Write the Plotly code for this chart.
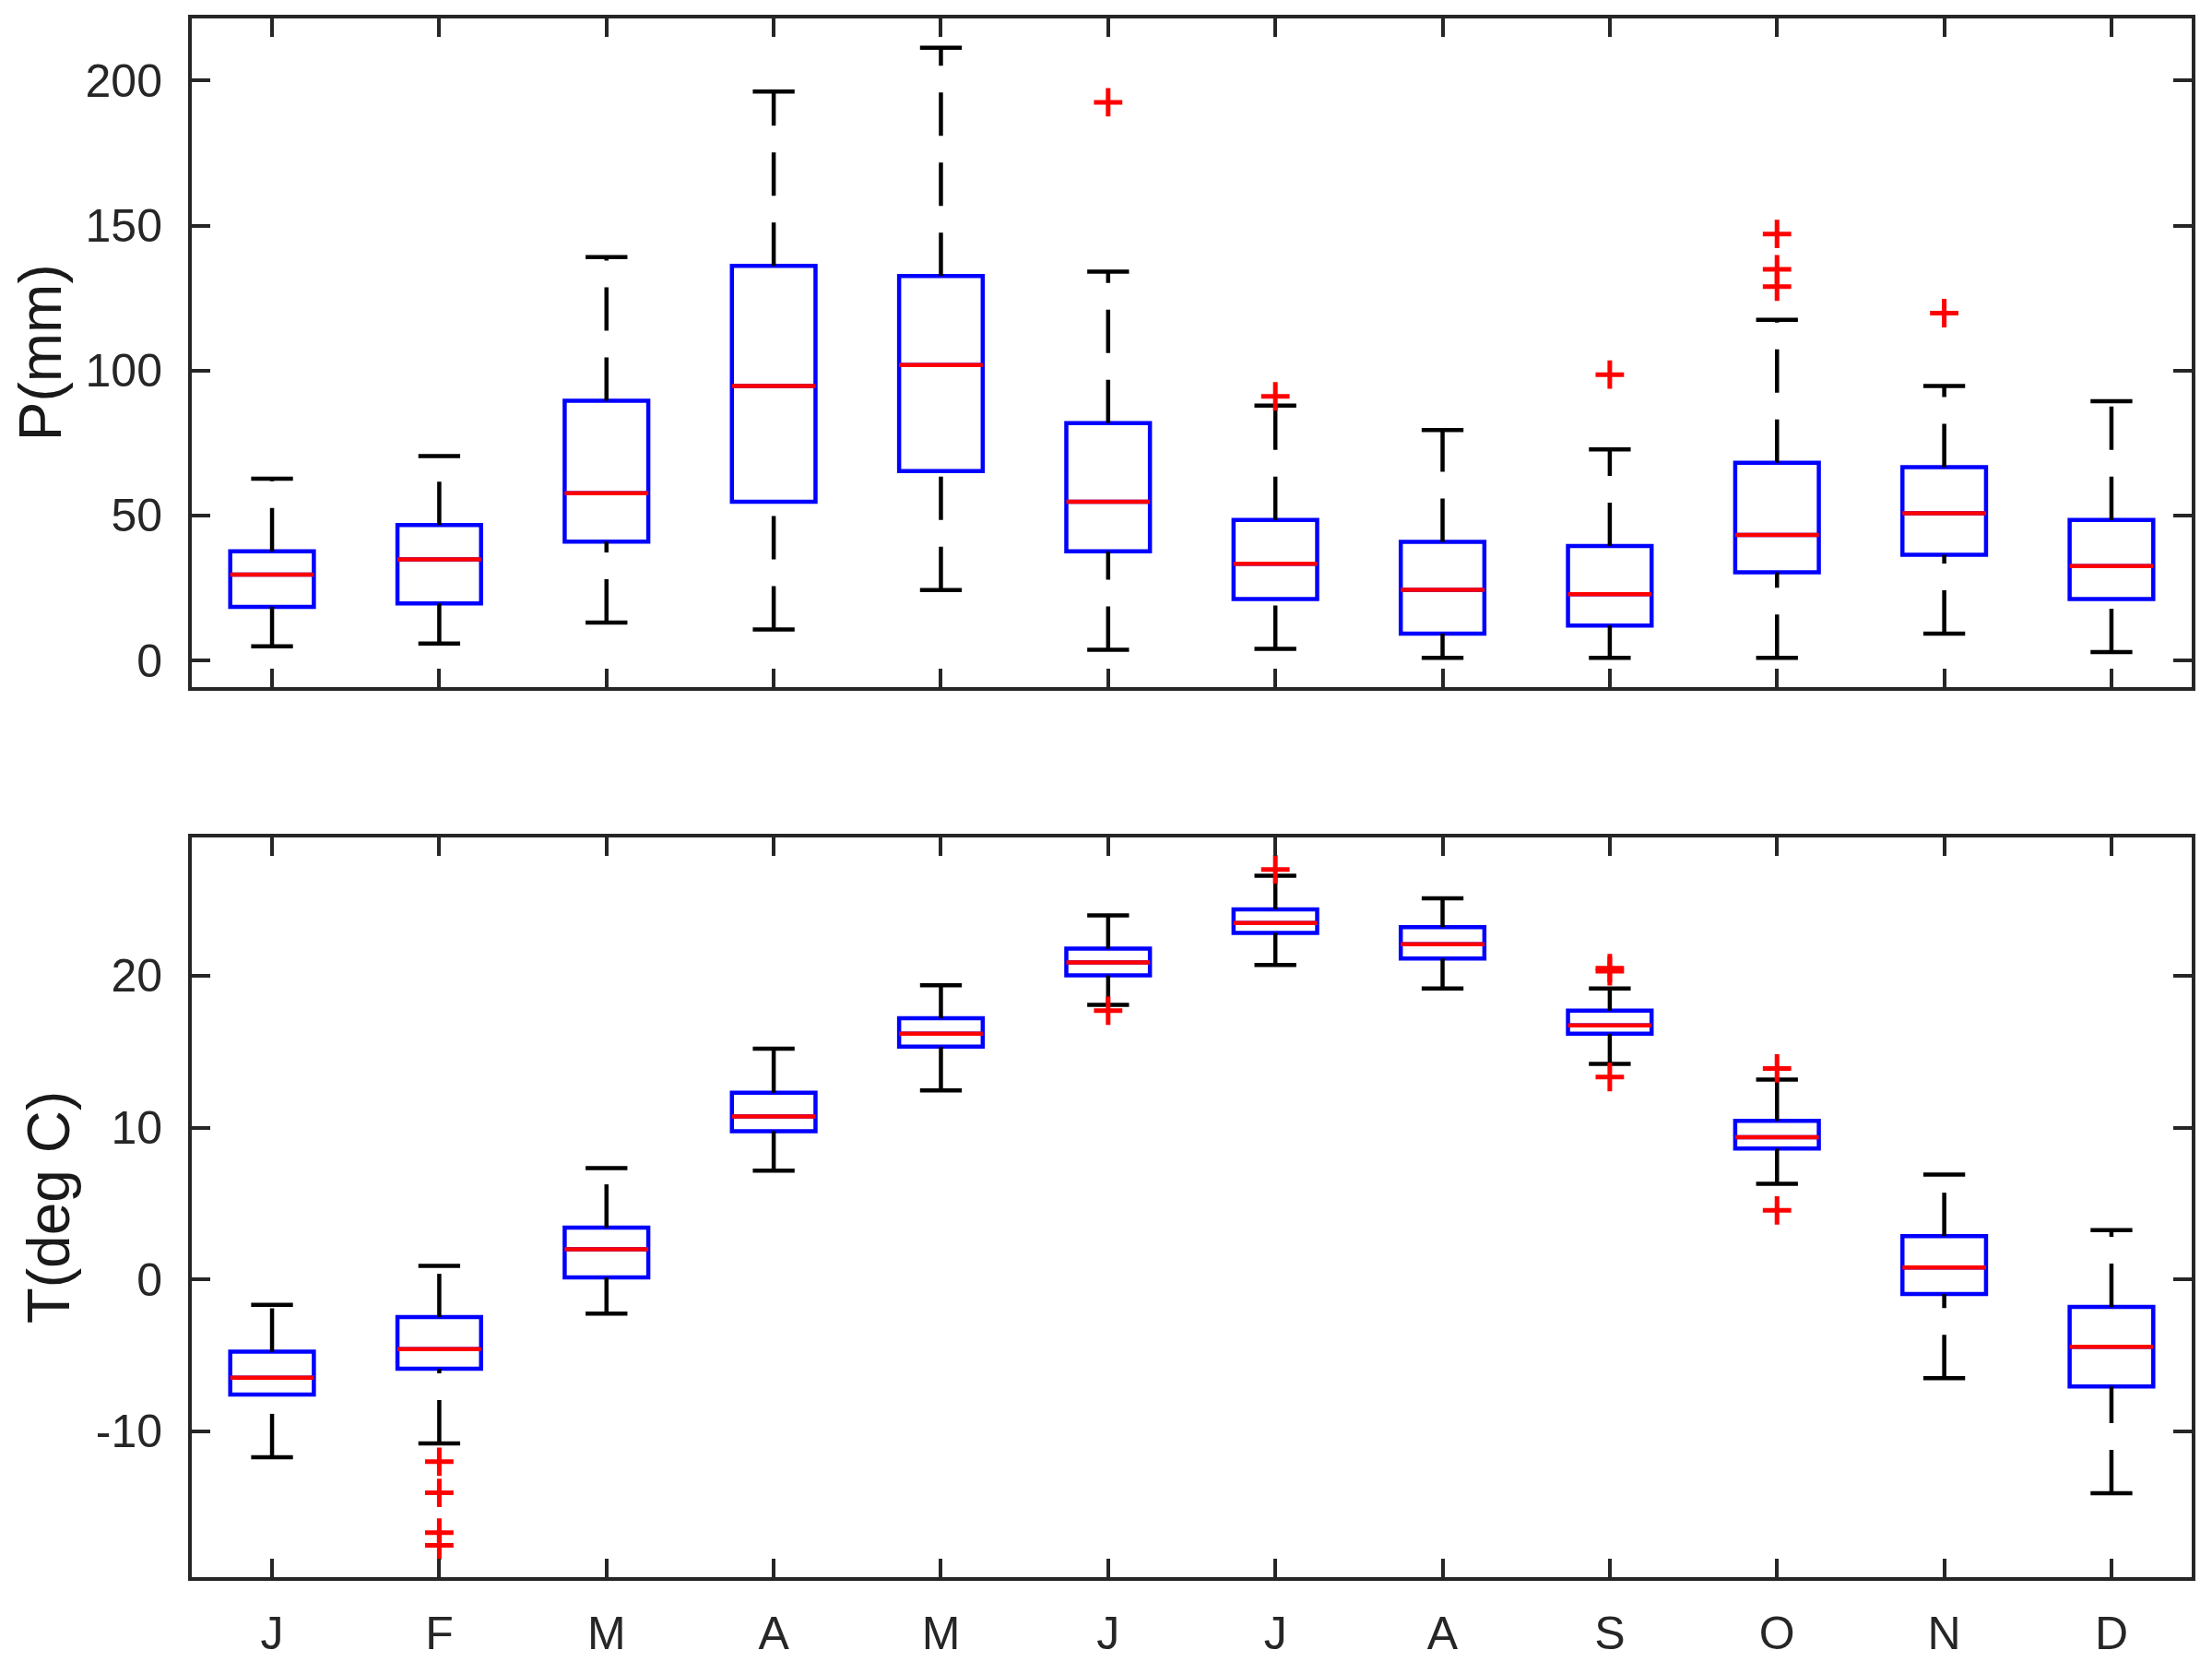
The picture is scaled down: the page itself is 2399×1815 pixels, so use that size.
import plotly.graph_objects as go
from plotly.subplots import make_subplots

months = ["J", "F", "M", "A", "M", "J", "J", "A", "S", "O", "N", "D"]
pos = list(range(1, 13))

# precipitation (mm)
p_lower = [4.9, 5.9, 13.1, 10.7, 24.3, 3.7, 4.0, 0.9, 0.9, 0.9, 9.3, 2.9]
p_q1 = [18.5, 19.7, 41.0, 54.8, 65.3, 37.7, 21.2, 9.3, 12.1, 30.4, 36.5, 21.2]
p_med = [29.6, 34.9, 57.7, 94.7, 101.9, 54.8, 33.4, 24.4, 22.9, 43.3, 50.8, 32.6]
p_q3 = [37.7, 46.7, 89.6, 136.1, 132.6, 81.9, 48.5, 40.9, 39.5, 68.2, 66.7, 48.5]
p_upper = [62.7, 70.5, 139.1, 196.2, 211.3, 134.1, 87.9, 79.5, 72.8, 117.5, 94.7, 89.4]
p_out_month = [6, 7, 9, 10, 10, 10, 11]
p_out_val = [192.5, 91.1, 98.6, 147.1, 134.9, 128.9, 119.8]
p_ticks = [0, 50, 100, 150, 200]

# temperature (deg C)
t_lower = [-11.7, -10.8, -2.25, 7.17, 12.45, 18.09, 20.71, 19.16, 14.2, 6.3, -6.5, -14.08]
t_q1 = [-7.57, -5.88, 0.14, 9.76, 15.34, 20.03, 22.82, 21.13, 16.18, 8.63, -0.96, -7.05]
t_med = [-6.47, -4.59, 1.99, 10.74, 16.18, 20.87, 23.47, 22.07, 16.73, 9.37, 0.79, -4.43]
t_q3 = [-4.75, -2.48, 3.41, 12.3, 17.2, 21.78, 24.37, 23.2, 17.7, 10.44, 2.86, -1.8]
t_upper = [-1.67, 0.9, 7.33, 15.2, 19.38, 23.98, 26.58, 25.09, 19.16, 13.16, 6.91, 3.25]
t_out_month = [2, 2, 2, 2, 6, 7, 9, 9, 9, 10, 10]
t_out_val = [-12.0, -14.05, -16.67, -17.5, 17.7, 27.0, 20.5, 20.3, 13.33, 13.9, 4.55]
t_ticks = [-10, 0, 10, 20]

BOX_W = 0.5
CAP_W = 0.25
LW = 4.5
AXIS_COLOR = "#262626"
FONT = "Liberation Sans, Arial, sans-serif"


def segments(x0s, x1s, y0s, y1s):
    xs, ys = [], []
    for a, b, c, d in zip(x0s, x1s, y0s, y1s):
        xs += [a, b, None]
        ys += [c, d, None]
    return xs, ys


def add_panel(fig, row, lower, q1, med, q3, upper, out_m, out_v):
    fig.add_trace(go.Box(
        x=pos, q1=q1, median=med, q3=q3, lowerfence=q1, upperfence=q3,
        width=BOX_W, whiskerwidth=0, boxpoints=False,
        line=dict(color="#0000ff", width=LW), fillcolor="rgba(0,0,0,0)",
        hoverinfo="skip",
    ), row=row, col=1)

    # whiskers, drawn upward like matlab does
    xs, ys = segments(pos + pos, pos + pos, lower + q3, q1 + upper)
    for i in range(len(pos) * 2):
        fig.add_trace(go.Scatter(
            x=xs[3 * i:3 * i + 2], y=ys[3 * i:3 * i + 2], mode="lines",
            line=dict(color="black", width=LW, dash="47px,29px"),
            hoverinfo="skip",
        ), row=row, col=1)

    # caps
    left = [p - CAP_W / 2 for p in pos]
    right = [p + CAP_W / 2 for p in pos]
    xs, ys = segments(left + left, right + right, lower + upper, lower + upper)
    fig.add_trace(go.Scatter(x=xs, y=ys, mode="lines",
                             line=dict(color="black", width=LW),
                             hoverinfo="skip"), row=row, col=1)

    # medians
    left = [p - BOX_W / 2 for p in pos]
    right = [p + BOX_W / 2 for p in pos]
    xs, ys = segments(left, right, med, med)
    fig.add_trace(go.Scatter(x=xs, y=ys, mode="lines",
                             line=dict(color="#ff0000", width=LW),
                             hoverinfo="skip"), row=row, col=1)

    # outliers
    fig.add_trace(go.Scatter(
        x=out_m, y=out_v, mode="markers",
        marker=dict(symbol="cross-thin", size=22,
                    line=dict(color="#ff0000", width=5)),
        hoverinfo="skip",
    ), row=row, col=1)


fig = make_subplots(rows=2, cols=1)
add_panel(fig, 1, p_lower, p_q1, p_med, p_q3, p_upper, p_out_month, p_out_val)
add_panel(fig, 2, t_lower, t_q1, t_med, t_q3, t_upper, t_out_month, t_out_val)

axis_common = dict(
    showline=True, linecolor=AXIS_COLOR, linewidth=4, mirror="ticks",
    ticks="inside", ticklen=20, tickwidth=4, tickcolor=AXIS_COLOR,
    showgrid=False, zeroline=False,
    tickfont=dict(family=FONT, size=50, color=AXIS_COLOR),
)

fig.update_xaxes(axis_common)
fig.update_yaxes(axis_common)

fig.update_xaxes(range=[0.52, 12.48], tickvals=pos, ticktext=months)
fig.update_xaxes(showticklabels=False, row=1, col=1)
fig.update_xaxes(ticklabelstandoff=14, row=2, col=1)

# plain hyphen for negatives, like the original
fig.update_yaxes(range=[-9, 221.4], tickvals=p_ticks,
                 ticktext=[str(v) for v in p_ticks],
                 domain=[0.5713, 1.0], ticklabelstandoff=18,
                 title=dict(text="P(mm)", standoff=8,
                            font=dict(family=FONT, size=64, color="#1a1a1a")),
                 row=1, col=1)
fig.update_yaxes(range=[-19.6, 29.1], tickvals=t_ticks,
                 ticktext=[str(v) for v in t_ticks],
                 domain=[0.0, 0.4745], ticklabelstandoff=18,
                 title=dict(text="T(deg C)", standoff=8,
                            font=dict(family=FONT, size=64, color="#1a1a1a")),
                 row=2, col=1)

# page body keeps an 8px margin, so the figure is a bit smaller than the window
fig.update_layout(
    width=2383, height=1799,
    margin=dict(l=200, r=14, t=8, b=88),
    showlegend=False,
    plot_bgcolor="white", paper_bgcolor="white",
    font=dict(family=FONT, color=AXIS_COLOR),
)

fig.write_html("out.html")
